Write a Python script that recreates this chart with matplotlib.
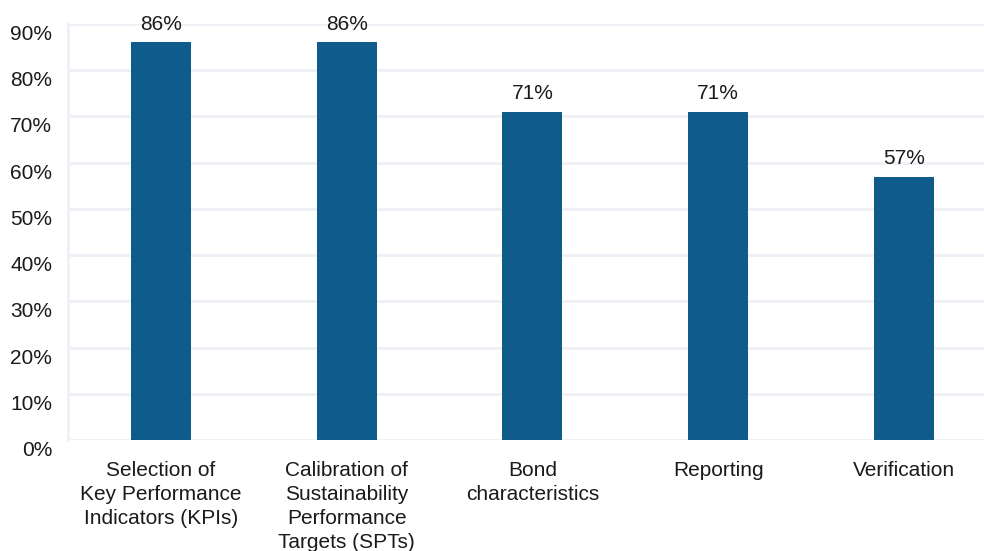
import matplotlib
matplotlib.use('Agg')
import matplotlib.pyplot as plt
from matplotlib.transforms import ScaledTranslation

categories = ['Selection of\nKey Performance\nIndicators (KPIs)',
              'Calibration of\nSustainability\nPerformance\nTargets (SPTs)',
              'Bond\ncharacteristics',
              'Reporting',
              'Verification']
values = [0.86, 0.86, 0.71, 0.71, 0.57]
yticks = [0, 0.1, 0.2, 0.3, 0.4, 0.5, 0.6, 0.7, 0.8, 0.9]

plt.rcParams['font.family'] = ['Liberation Sans', 'DejaVu Sans']
bar_color = '#0f5b8b'
grid_color = '#edf0f4'
text_color = '#1a1a1a'
fs = 15

fig = plt.figure(figsize=(9.84, 5.51), dpi=100)
ax = fig.add_axes([68 / 984, 1 - 440 / 551, 1 - 68 / 984, (440 - 24) / 551])

x = list(range(len(values)))
bars = ax.bar(x, values, width=0.323, color=bar_color, zorder=3)

for xi, v in zip(x, values):
    ax.annotate('{:.0f}%'.format(v * 100), (xi, v), xytext=(0, 13),
                textcoords='offset points', ha='center', va='center',
                fontsize=fs, color=text_color)

ax.set_xlim(-0.5, 4.431)
ax.set_ylim(0, 0.9)
ax.set_yticks(yticks)
ax.set_yticklabels(['{:.0f}%'.format(t * 100) for t in yticks])
ax.set_xticks(x)
ax.set_xticklabels(categories, linespacing=1.33)

ax.grid(axis='y', color=grid_color, linewidth=2, zorder=0)
ax.tick_params(axis='both', length=0, labelsize=fs, labelcolor=text_color)
ax.tick_params(axis='y', pad=11.5)
ax.tick_params(axis='x', pad=15)

# y labels sit a bit below their gridlines in the original
offset = ScaledTranslation(0, -8.5 / 100, fig.dpi_scale_trans)
for lbl in ax.get_yticklabels():
    lbl.set_transform(lbl.get_transform() + offset)

for side in ['top', 'right', 'bottom']:
    ax.spines[side].set_visible(False)
ax.spines['left'].set_color(grid_color)
ax.spines['left'].set_linewidth(2)

fig.savefig('out.png', dpi=100)
